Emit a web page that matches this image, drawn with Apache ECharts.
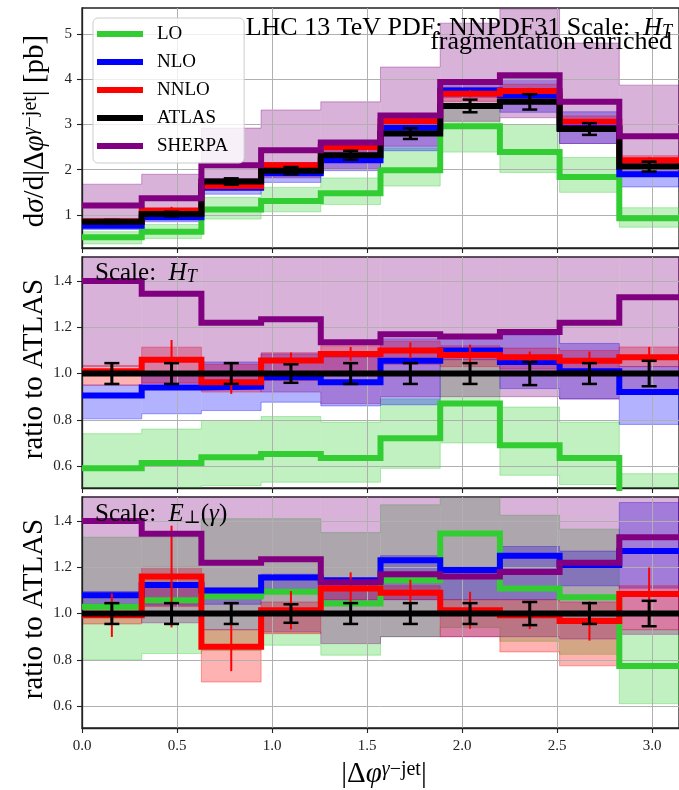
<!DOCTYPE html>
<html><head><meta charset="utf-8">
<script src="https://cdn.jsdelivr.net/npm/echarts@6/dist/echarts.min.js"></script>
<style>html,body{margin:0;padding:0;background:#fff}#c{width:679px;height:790px}</style>
</head><body><div id="c"></div>
<script>
// ---------- data ----------
const binEdges = [0, 0.3142, 0.6283, 0.9425, 1.2566, 1.5708, 1.8850, 2.1991, 2.5133, 2.8274, 3.1416];
const xTicks = [0.0, 0.5, 1.0, 1.5, 2.0, 2.5, 3.0];
const yTicksTop = [1, 2, 3, 4, 5];
const yTicksRatio = [0.6, 0.8, 1.0, 1.2, 1.4];

// top panel: dsigma/d|dphi| [pb]
const atlas     = [0.85, 1.02, 1.74, 1.98, 2.32, 2.80, 3.41, 3.50, 2.90, 2.07];
const atlasErr  = [0.04, 0.05, 0.07, 0.08, 0.10, 0.12, 0.14, 0.17, 0.13, 0.11];
const lo        = [0.51, 0.63, 1.12, 1.31, 1.48, 1.99, 2.96, 2.39, 1.84, 0.93];
const loLow     = [0.36, 0.48, 0.91, 1.07, 1.23, 1.64, 2.39, 1.94, 1.50, 0.73];
const loHigh    = [0.63, 0.79, 1.39, 1.61, 1.82, 2.48, 3.38, 3.00, 2.27, 1.16];
const nlo       = [0.76, 0.95, 1.60, 1.92, 2.21, 2.93, 3.75, 3.64, 2.92, 1.90];
const nloLow    = [0.68, 0.85, 1.46, 1.72, 1.98, 2.42, 3.60, 3.27, 2.58, 1.62];
const nloHigh   = [0.82, 1.02, 1.80, 2.16, 2.48, 3.22, 3.95, 4.08, 3.28, 2.14];
const nnlo      = [0.86, 1.10, 1.64, 2.10, 2.50, 3.07, 3.68, 3.74, 3.06, 2.21];
const nnloLow   = [0.81, 0.98, 1.58, 1.92, 2.30, 2.91, 3.51, 3.57, 2.90, 2.13];
const nnloHigh  = [0.88, 1.14, 1.80, 2.16, 2.60, 3.19, 3.82, 3.89, 3.19, 2.31];
const nnloErr   = [0.02, 0.08, 0.04, 0.04, 0.05, 0.06, 0.08, 0.07, 0.06, 0.07];
const sherpa    = [1.21, 1.37, 2.10, 2.43, 2.60, 3.20, 3.94, 4.09, 3.50, 2.74];
const sherpaLow = [0.88, 0.98, 1.62, 1.82, 2.02, 2.52, 3.07, 3.15, 2.58, 1.88];
const sherpaHigh= [1.68, 1.90, 2.92, 3.32, 3.50, 4.27, 5.24, 5.55, 4.80, 3.87];

// ratio panels (shared)
const atlasRatio    = [1, 1, 1, 1, 1, 1, 1, 1, 1, 1];
const atlasRatioErr = [0.045, 0.045, 0.045, 0.04, 0.045, 0.045, 0.045, 0.05, 0.045, 0.055];
const sherpaRatio     = [1.40, 1.345, 1.22, 1.235, 1.135, 1.17, 1.16, 1.18, 1.22, 1.33];
const sherpaRatioLow  = [1.03, 0.96, 0.93, 0.92, 0.87, 0.90, 0.90, 0.90, 0.89, 0.91];
const sherpaRatioHigh = [2.00, 1.85, 1.68, 1.68, 1.51, 1.52, 1.54, 1.59, 1.66, 1.87];

// middle panel: scale H_T
const htLo       = [0.59, 0.613, 0.638, 0.652, 0.635, 0.72, 0.87, 0.69, 0.635, 0.45];
const htLoLow    = [0.45, 0.47, 0.515, 0.53, 0.53, 0.59, 0.70, 0.56, 0.52, 0.35];
const htLoHigh   = [0.74, 0.76, 0.797, 0.814, 0.79, 0.89, 1.06, 0.855, 0.79, 0.567];
const htNlo      = [0.905, 0.94, 0.944, 0.984, 0.962, 1.055, 1.10, 1.05, 1.01, 0.92];
const htNloLow   = [0.804, 0.826, 0.84, 0.876, 0.86, 0.865, 1.06, 0.935, 0.89, 0.78];
const htNloHigh  = [0.95, 1.00, 1.05, 1.085, 1.07, 1.15, 1.16, 1.165, 1.13, 1.03];
const htNnlo     = [1.01, 1.06, 0.962, 1.056, 1.085, 1.10, 1.08, 1.07, 1.055, 1.07];
const htNnloLow  = [0.95, 0.957, 0.92, 0.97, 0.99, 1.04, 1.03, 1.02, 1.00, 1.03];
const htNnloHigh = [1.035, 1.114, 1.04, 1.09, 1.12, 1.14, 1.12, 1.11, 1.10, 1.115];
const htNnloErr  = [0.03, 0.085, 0.05, 0.035, 0.03, 0.035, 0.045, 0.025, 0.04, 0.045];

// bottom panel: scale E_perp(gamma)
const etLo       = [1.029, 1.058, 1.075, 1.094, 1.043, 1.144, 1.346, 1.108, 1.07, 0.773];
const etLoLow    = [0.80, 0.827, 0.84, 0.863, 0.82, 0.90, 0.94, 0.88, 0.824, 0.61];
const etLoHigh   = [1.33, 1.33, 1.41, 1.41, 1.35, 1.47, 1.55, 1.425, 1.365, 0.93];
const etNlo      = [1.079, 1.123, 1.10, 1.156, 1.144, 1.23, 1.188, 1.25, 1.21, 1.27];
const etNloLow   = [1.04, 1.036, 1.04, 1.094, 1.058, 1.06, 1.06, 1.06, 1.12, 1.11];
const etNloHigh  = [1.095, 1.13, 1.11, 1.17, 1.15, 1.25, 1.20, 1.29, 1.27, 1.48];
const etNnlo     = [0.993, 1.16, 0.856, 1.014, 1.108, 1.09, 1.014, 0.993, 0.968, 1.084];
const etNnloLow  = [0.955, 1.03, 0.704, 0.913, 1.06, 1.06, 0.90, 0.834, 0.774, 0.93];
const etNnloHigh = [1.02, 1.20, 0.93, 1.05, 1.12, 1.12, 1.06, 1.06, 1.05, 1.12];
const etNnloErr  = [0.094, 0.22, 0.105, 0.083, 0.07, 0.056, 0.08, 0.06, 0.085, 0.115];

// ---------- styling ----------
const FONT = "'Liberation Serif', 'DejaVu Serif', serif";
const C = { LO: '#32cd32', NLO: '#0000ff', NNLO: '#ff0000', ATLAS: '#000000', SHERPA: '#800080' };
const BAND = { LO: 'rgba(50,205,50,0.3)', NLO: 'rgba(0,0,255,0.3)', NNLO: 'rgba(255,0,0,0.3)', SHERPA: 'rgba(128,0,128,0.3)' };
const EDGE = { LO: 'rgba(50,205,50,0.35)', NLO: 'rgba(0,0,255,0.35)', NNLO: 'rgba(255,0,0,0.35)', SHERPA: 'rgba(128,0,128,0.35)' };

function stepData(vals) {
  return binEdges.map((e, i) => [e, vals[Math.min(i, vals.length - 1)]]);
}
function lineSeries(name, gi, vals, z) {
  return { type: 'line', name, xAxisIndex: gi, yAxisIndex: gi, step: 'end', data: stepData(vals),
    showSymbol: false, symbol: 'none', silent: true, z, clip: true, animation: false,
    lineStyle: { color: C[name], width: 6, join: 'miter' }, itemStyle: { color: C[name] } };
}
function bandSeries(key, gi, low, high) {
  const data = low.map((l, i) => [binEdges[i], binEdges[i + 1], l, high[i]]);
  const n = data.length;
  return { type: 'custom', name: key + ' band', xAxisIndex: gi, yAxisIndex: gi, z: 1, silent: true, clip: true, animation: false,
    encode: { x: [0, 1], y: [2, 3] }, data,
    renderItem(params, api) {
      const idx = params.dataIndexInside;
      const x0 = api.value(0), x1 = api.value(1), lo = api.value(2), hi = api.value(3);
      const p0 = api.coord([x0, hi]), p1 = api.coord([x1, lo]);
      const cs = params.coordSys;
      const rect = echarts.graphic.clipRectByRect(
        { x: p0[0], y: p0[1], width: p1[0] - p0[0], height: p1[1] - p0[1] },
        { x: cs.x, y: cs.y, width: cs.width, height: cs.height });
      const children = [];
      if (rect) children.push({ type: 'rect', shape: rect, style: { fill: BAND[key] } });
      const pHiR = api.coord([x1, hi]), pLoL = api.coord([x0, lo]);
      let hiPts = [p0, pHiR], loPts = [pLoL, p1];
      if (idx < n - 1) {
        hiPts.push(api.coord([x1, api.value(3, idx + 1)]));
        loPts.push(api.coord([x1, api.value(2, idx + 1)]));
      } else {
        hiPts.push(p1);
      }
      if (idx === 0) hiPts.unshift(pLoL);
      children.push({ type: 'polyline', shape: { points: hiPts }, style: { stroke: EDGE[key], lineWidth: 1, fill: null } });
      children.push({ type: 'polyline', shape: { points: loPts }, style: { stroke: EDGE[key], lineWidth: 1, fill: null } });
      return { type: 'group', children };
    } };
}
function errSeries(name, gi, vals, errs, color, lw, capHalf, z) {
  const data = vals.map((v, i) => [(binEdges[i] + binEdges[i + 1]) / 2, v, errs[i]]);
  return { type: 'custom', name: name + ' err', xAxisIndex: gi, yAxisIndex: gi, z, silent: true, clip: true, animation: false,
    encode: { x: 0, y: 1 }, data,
    renderItem(params, api) {
      const x = api.value(0), v = api.value(1), e = api.value(2);
      const t = api.coord([x, v + e]), b = api.coord([x, v - e]);
      const ch = [{ type: 'line', shape: { x1: t[0], y1: t[1], x2: b[0], y2: b[1] }, style: { stroke: color, lineWidth: lw } }];
      if (capHalf > 0) {
        ch.push({ type: 'line', shape: { x1: t[0] - capHalf, y1: t[1], x2: t[0] + capHalf, y2: t[1] }, style: { stroke: color, lineWidth: 2.5 } });
        ch.push({ type: 'line', shape: { x1: b[0] - capHalf, y1: b[1], x2: b[0] + capHalf, y2: b[1] }, style: { stroke: color, lineWidth: 2.5 } });
      }
      return { type: 'group', children: ch };
    } };
}

function panelSeries(gi, d) {
  return [
    bandSeries('LO', gi, d.loL, d.loH),
    bandSeries('NLO', gi, d.nloL, d.nloH),
    bandSeries('NNLO', gi, d.nnloL, d.nnloH),
    bandSeries('SHERPA', gi, d.shL, d.shH),
    lineSeries('LO', gi, d.lo, 3),
    lineSeries('NLO', gi, d.nlo, 4),
    lineSeries('NNLO', gi, d.nnlo, 5),
    errSeries('NNLO', gi, d.nnlo, d.nnloE, '#ff0000', 2, 0, 6),
    lineSeries('ATLAS', gi, d.atlas, 7),
    errSeries('ATLAS', gi, d.atlas, d.atlasE, '#000000', 3, 7.5, 8),
    lineSeries('SHERPA', gi, d.sh, 9)
  ];
}

const series = [].concat(
  panelSeries(0, { lo, loL: loLow, loH: loHigh, nlo, nloL: nloLow, nloH: nloHigh, nnlo, nnloL: nnloLow, nnloH: nnloHigh, nnloE: nnloErr,
    atlas, atlasE: atlasErr, sh: sherpa, shL: sherpaLow, shH: sherpaHigh }),
  panelSeries(1, { lo: htLo, loL: htLoLow, loH: htLoHigh, nlo: htNlo, nloL: htNloLow, nloH: htNloHigh, nnlo: htNnlo, nnloL: htNnloLow, nnloH: htNnloHigh, nnloE: htNnloErr,
    atlas: atlasRatio, atlasE: atlasRatioErr, sh: sherpaRatio, shL: sherpaRatioLow, shH: sherpaRatioHigh }),
  panelSeries(2, { lo: etLo, loL: etLoLow, loH: etLoHigh, nlo: etNlo, nloL: etNloLow, nloH: etNloHigh, nnlo: etNnlo, nnloL: etNnloLow, nnloH: etNnloHigh, nnloE: etNnloErr,
    atlas: atlasRatio, atlasE: atlasRatioErr, sh: sherpaRatio, shL: sherpaRatioLow, shH: sherpaRatioHigh })
);

const GRID_LEFT = 82, GRID_W = 603;
const grids = [
  { left: GRID_LEFT, width: GRID_W, top: 8, height: 240 },
  { left: GRID_LEFT, width: GRID_W, top: 257, height: 231 },
  { left: GRID_LEFT, width: GRID_W, top: 497, height: 231 }
].map(g => Object.assign(g, { show: true, borderColor: '#222', borderWidth: 1.3, backgroundColor: 'transparent', containLabel: false }));

function xAxis(gi, showLabel) {
  return { type: 'value', gridIndex: gi, min: 0, max: binEdges[binEdges.length - 1], interval: 0.5, z: 2,
    axisLine: { show: true, onZero: false, lineStyle: { color: '#222', width: 1.3 } },
    axisTick: { show: true, inside: false, length: 5, customValues: xTicks, lineStyle: { color: '#222', width: 1.1 } },
    axisLabel: { show: showLabel, customValues: xTicks, margin: 11, color: '#222', fontFamily: FONT, fontSize: 15,
      formatter: v => Number(v).toFixed(1) },
    splitLine: { show: true, lineStyle: { color: '#b0b0b0', width: 1 } } };
}
function yAxis(gi, min, max, step, ticks, fmt) {
  return { type: 'value', gridIndex: gi, min, max, minInterval: step, maxInterval: step, z: 2,
    axisLine: { show: true, onZero: false, lineStyle: { color: '#222', width: 1.3 } },
    axisTick: { show: true, inside: false, length: 5, customValues: ticks, lineStyle: { color: '#222', width: 1.1 } },
    axisLabel: { show: true, customValues: ticks, margin: 10, color: '#222', fontFamily: FONT, fontSize: 15, formatter: fmt },
    splitLine: { show: true, lineStyle: { color: '#b0b0b0', width: 1 } } };
}

// rich text helpers (subscripts / superscripts)
function subRich(fs) {
  const L = Math.round(fs * 1.16), d = Math.round(fs * 0.29), sf = Math.round(fs * 0.7);
  const base = { fontFamily: FONT, fontSize: fs, lineHeight: L, verticalAlign: 'bottom', fill: '#000', color: '#000' };
  return {
    n: base,
    i: Object.assign({}, base, { fontStyle: 'italic' }),
    s: Object.assign({}, base, { fontSize: sf, lineHeight: L + 2 * d, fontStyle: 'normal' }),
    si: Object.assign({}, base, { fontSize: sf, lineHeight: L + 2 * d, fontStyle: 'italic' })
  };
}
function supRich(fs) {
  const L = Math.round(fs * 1.16), d = Math.round(fs * 0.31), sf = Math.round(fs * 0.7);
  const base = { fontFamily: FONT, fontSize: fs, lineHeight: L, verticalAlign: 'top', fill: '#000', color: '#000' };
  return {
    n: base,
    i: Object.assign({}, base, { fontStyle: 'italic' }),
    u: Object.assign({}, base, { fontSize: sf, lineHeight: L + 2 * d }),
    ui: Object.assign({}, base, { fontSize: sf, lineHeight: L + 2 * d, fontStyle: 'italic' })
  };
}

const graphics = [
  { type: 'text', z: 30, x: 672, y: -5, style: {
      text: '{n|LHC 13 TeV PDF: NNPDF31 Scale:  }{i|H}{si|T}', align: 'right', verticalAlign: 'top', rich: subRich(26) } },
  { type: 'text', z: 30, x: 672, y: 42, style: {
      text: 'fragmentation enriched', align: 'right', verticalAlign: 'middle', fontFamily: FONT, fontSize: 26, fill: '#000' } },
  { type: 'text', z: 30, x: 95, y: 243, style: {
      text: '{n|Scale:  }{i|H}{si|T}', align: 'left', verticalAlign: 'top', rich: subRich(25) } },
  { type: 'text', z: 30, x: 95, y: 484, style: {
      text: '{n|Scale:  }{i|E}{s|⊥}{n|(}{i|γ}{n|)}', align: 'left', verticalAlign: 'top', rich: subRich(25) } },
  { type: 'text', z: 30, x: 47, y: 131, rotation: Math.PI / 2, style: {
      text: '{n|d}{i|σ}{n|/d|Δ}{i|φ}{ui|γ}{u|−jet}{n|| [pb]}', align: 'center', verticalAlign: 'middle', rich: supRich(29) } },
  { type: 'text', z: 30, x: 34, y: 369, rotation: Math.PI / 2, style: {
      text: 'ratio to ATLAS', align: 'center', verticalAlign: 'middle', fontFamily: FONT, fontSize: 29, fill: '#000' } },
  { type: 'text', z: 30, x: 34, y: 609, rotation: Math.PI / 2, style: {
      text: 'ratio to ATLAS', align: 'center', verticalAlign: 'middle', fontFamily: FONT, fontSize: 29, fill: '#000' } },
  { type: 'text', z: 30, x: 384, y: 760, style: {
      text: '{n||Δ}{i|φ}{ui|γ}{u|−jet}{n||}', align: 'center', verticalAlign: 'top', rich: supRich(29) } }
];

const option = {
  animation: false,
  backgroundColor: '#ffffff',
  grid: grids,
  xAxis: [xAxis(0, false), xAxis(1, false), xAxis(2, true)],
  yAxis: [
    yAxis(0, 0.27, 5.575, 1, yTicksTop, v => String(Math.round(v))),
    yAxis(1, 0.505, 1.504, 0.2, yTicksRatio, v => Number(v).toFixed(1)),
    yAxis(2, 0.505, 1.504, 0.2, yTicksRatio, v => Number(v).toFixed(1))
  ],
  legend: {
    left: 93, top: 18, orient: 'vertical', icon: 'rect', itemWidth: 46, itemHeight: 6, itemGap: 6,
    padding: [5, 16, 6, 4], backgroundColor: 'rgba(255,255,255,0.8)', borderColor: '#cccccc', borderWidth: 1, borderRadius: 5,
    selectedMode: false, z: 20,
    textStyle: { fontFamily: FONT, fontSize: 19, color: '#000', lineHeight: 22, padding: [0, 0, 0, 9] },
    data: ['LO', 'NLO', 'NNLO', 'ATLAS', 'SHERPA'].map(n => ({ name: n, icon: 'rect', itemStyle: { color: C[n] } }))
  },
  graphic: graphics,
  series
};

const chart = echarts.init(document.getElementById('c'), null, { renderer: 'canvas' });
chart.setOption(option);
</script>
</body></html>
